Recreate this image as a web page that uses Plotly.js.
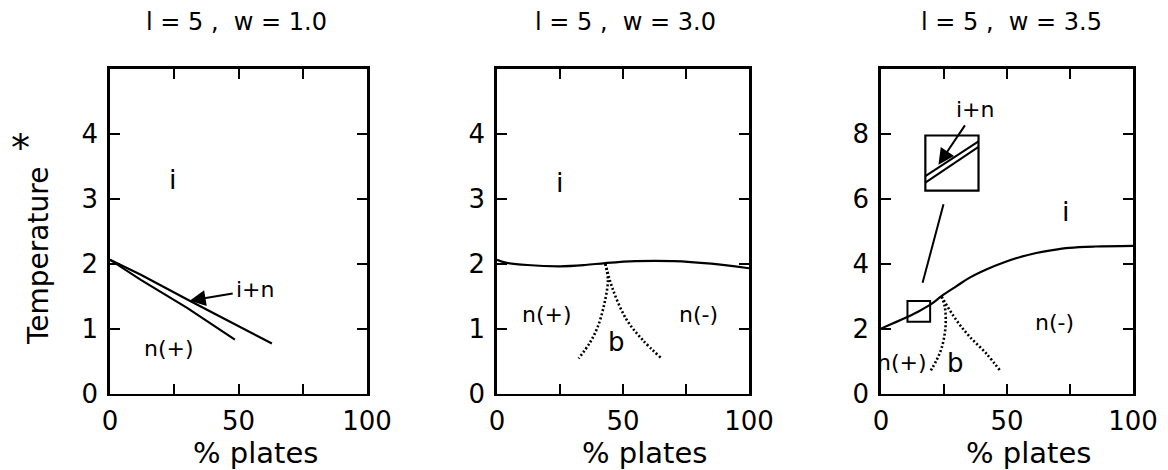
<!DOCTYPE html>
<html>
<head>
<meta charset="utf-8">
<script src="https://cdn.plot.ly/plotly-3.0.1.min.js"></script>
<style>
  html, body { margin: 0; padding: 0; background: #fff; }
  #chart { width: 1168px; height: 470px; }
</style>
</head>
<body>
<div id="chart"></div>
<script>
// ---- panel titles and axis labels ----
const panelTitles = ["l = 5 ,  w = 1.0", "l = 5 ,  w = 3.0", "l = 5 ,  w = 3.5"];
const xTitle = "% plates";
const yTitle = "Temperature";

// ---- tick values / labels ----
const xTickVals = [0, 25, 50, 75, 100];
const xTickText = ["0", "", "50", "", "100"];
const yTickVals12 = [0, 1, 2, 3, 4, 5];
const yTickText12 = ["0", "1", "2", "3", "4", ""];
const yTickVals3 = [0, 2, 4, 6, 8, 10];
const yTickText3 = ["0", "2", "4", "6", "8", ""];

// ---- panel 1 (w = 1.0): two coexistence boundaries ----
const p1UpperX = [0, 12, 31, 63];
const p1UpperT = [2.06, 1.83, 1.43, 0.77];
const p1LowerX = [0, 12, 30, 48.6];
const p1LowerT = [2.06, 1.75, 1.32, 0.83];

// ---- panel 2 (w = 3.0): transition line and dotted boundaries ----
const p2LineX = [0, 3, 12, 25, 35, 43, 55, 70, 85, 100];
const p2LineT = [2.06, 2.02, 1.98, 1.96, 1.98, 2.01, 2.04, 2.04, 2.0, 1.93];
const p2DotLeftX = [43, 44, 42.7, 40, 36.8, 32.4];
const p2DotLeftT = [2.0, 1.75, 1.4, 1.03, 0.78, 0.54];
const p2DotRightX = [43, 46, 51.4, 57.7, 65];
const p2DotRightT = [2.0, 1.6, 1.14, 0.83, 0.55];

// ---- panel 3 (w = 3.5) ----
const p3LineX = [0, 8, 14.7, 20, 24, 30, 35.2, 42, 48.4, 55, 61.6, 68, 74.7, 85, 100];
const p3LineT = [2.0, 2.27, 2.52, 2.76, 3.0, 3.31, 3.57, 3.83, 4.03, 4.2, 4.33, 4.42, 4.49, 4.53, 4.55];
const p3DotLeftX = [24.0, 25.3, 25.7, 25.3, 24.0, 22.0, 19.4];
const p3DotLeftT = [2.99, 2.68, 2.26, 1.85, 1.39, 1.02, 0.66];
const p3DotRightX = [24.0, 29.9, 35.2, 41.8, 47.7];
const p3DotRightT = [2.99, 2.26, 1.75, 1.23, 0.66];
// magnified view: small marker box, inset box, pointer line, inset boundaries
const p3SmallBoxX = [10.5, 19.5];
const p3SmallBoxT = [2.21, 2.85];
const p3InsetBoxX = [17.6, 38.7];
const p3InsetBoxT = [6.25, 7.95];
const p3PointerX = [16.5, 24.8];
const p3PointerT = [3.41, 5.83];
const p3InsetUpperX = [17.6, 38.7];
const p3InsetUpperT = [6.70, 7.77];
const p3InsetLowerX = [17.6, 38.7];
const p3InsetLowerT = [6.50, 7.60];

// ---- region labels: [text, x, T, size] ----
const p1Labels = [["i", 24.5, 3.3, 27], ["n(+)", 23, 0.69, 22]];
const p2Labels = [["i", 25, 3.25, 27], ["n(+)", 20, 1.22, 22], ["n(-)", 80, 1.22, 22], ["b", 47.4, 0.8, 26]];
const p3Labels = [["i", 73.6, 5.6, 27], ["n(-)", 68.8, 2.2, 22], ["n(+)", 8.2, 0.97, 22], ["b", 29.6, 0.93, 26]];

const W = 1168, H = 470;
const FONT = "DejaVu Sans";
const px = v => v / W;
const py = v => 1 - v / H;

const solid = { color: "black", width: 2.2 };
const dotted = { color: "black", width: 2.6, dash: "2px,2.2px" };

function line(x, y, xa, ya, style, shape) {
  return { x: x, y: y, xaxis: xa, yaxis: ya, type: "scatter", mode: "lines",
           line: Object.assign({ shape: shape || "linear", smoothing: 1 }, style),
           hoverinfo: "skip", showlegend: false };
}

const traces = [
  line(p1UpperX, p1UpperT, "x", "y", solid),
  line(p1LowerX, p1LowerT, "x", "y", solid),
  line(p2LineX, p2LineT, "x2", "y2", solid, "spline"),
  line(p2DotLeftX, p2DotLeftT, "x2", "y2", dotted, "spline"),
  line(p2DotRightX, p2DotRightT, "x2", "y2", dotted, "spline"),
  line(p3LineX, p3LineT, "x3", "y3", solid, "spline"),
  line(p3DotLeftX, p3DotLeftT, "x3", "y3", dotted, "spline"),
  line(p3DotRightX, p3DotRightT, "x3", "y3", dotted, "spline"),
  line(p3PointerX, p3PointerT, "x3", "y3", { color: "black", width: 2 }),
  line(p3InsetUpperX, p3InsetUpperT, "x3", "y3", { color: "black", width: 2 }),
  line(p3InsetLowerX, p3InsetLowerT, "x3", "y3", { color: "black", width: 2 })
];

function xAxis(domain, anchor) {
  return { domain: domain, anchor: anchor, range: [0, 100],
           tickmode: "array", tickvals: xTickVals, ticktext: xTickText,
           ticks: "inside", ticklen: 10, tickwidth: 2, tickcolor: "black",
           showline: true, linewidth: 2.8, linecolor: "black", mirror: "ticks",
           showgrid: false, zeroline: false, ticklabelstandoff: 2,
           tickfont: { family: FONT, size: 26, color: "black" }, fixedrange: true };
}
function yAxis(domain, anchor, range, vals, text) {
  return { domain: domain, anchor: anchor, range: range,
           tickmode: "array", tickvals: vals, ticktext: text,
           ticks: "inside", ticklen: 10, tickwidth: 2, tickcolor: "black",
           showline: true, linewidth: 2.8, linecolor: "black", mirror: "ticks",
           showgrid: false, zeroline: false, ticklabelstandoff: 4,
           tickfont: { family: FONT, size: 26, color: "black" }, fixedrange: true };
}

const yDom = [py(393.5), py(69)];

const annotations = [];
// panel titles
[[236, panelTitles[0]], [625, panelTitles[1]], [1011, panelTitles[2]]].forEach(([cx, t]) => {
  annotations.push({ xref: "paper", yref: "paper", x: px(cx), y: py(22), text: t,
    showarrow: false, xanchor: "center", yanchor: "middle",
    font: { family: FONT, size: 24, color: "black" } });
});
// x titles
[255, 644, 1028].forEach(cx => {
  annotations.push({ xref: "paper", yref: "paper", x: px(cx), y: py(453), text: xTitle,
    showarrow: false, xanchor: "center", yanchor: "middle",
    font: { family: FONT, size: 29, color: "black" } });
});
// y title and its asterisk
annotations.push({ xref: "paper", yref: "paper", x: px(38), y: py(256), text: yTitle,
  textangle: -90, showarrow: false, xanchor: "center", yanchor: "middle",
  font: { family: FONT, size: 28, color: "black" } });
annotations.push({ xref: "paper", yref: "paper", x: px(20), y: py(148), text: "*",
  showarrow: false, xanchor: "center", yanchor: "middle",
  font: { family: FONT, size: 38, color: "black" } });

// region labels
function addLabels(list, xr, yr) {
  list.forEach(([t, x, y, s]) => annotations.push({ xref: xr, yref: yr, x: x, y: y, text: t,
    showarrow: false, xanchor: "center", yanchor: "middle",
    font: { family: FONT, size: s, color: "black" } }));
}
addLabels(p1Labels, "x", "y");
addLabels(p2Labels, "x2", "y2");
addLabels(p3Labels, "x3", "y3");

// "i+n" pointers
annotations.push({ xref: "x", yref: "y", x: 31, y: 1.43, text: "i+n",
  showarrow: true, arrowhead: 2, arrowsize: 1.6, arrowwidth: 2, arrowcolor: "black",
  ax: 66, ay: -11, standoff: 0, startstandoff: 2,
  font: { family: FONT, size: 22, color: "black" } });
annotations.push({ xref: "x3", yref: "y3", x: 22.8, y: 7.05, text: "i+n",
  showarrow: true, arrowhead: 2, arrowsize: 1.6, arrowwidth: 2, arrowcolor: "black",
  ax: 37, ay: -55, standoff: 0, startstandoff: 2,
  font: { family: FONT, size: 22, color: "black" } });

const shapes = [
  { type: "rect", xref: "x3", yref: "y3", x0: p3SmallBoxX[0], x1: p3SmallBoxX[1],
    y0: p3SmallBoxT[0], y1: p3SmallBoxT[1], line: { color: "black", width: 2 } },
  { type: "rect", xref: "x3", yref: "y3", x0: p3InsetBoxX[0], x1: p3InsetBoxX[1],
    y0: p3InsetBoxT[0], y1: p3InsetBoxT[1], line: { color: "black", width: 2.2 } }
];

const layout = {
  width: W, height: H,
  margin: { l: 0, r: 0, t: 0, b: 0, pad: 0 },
  paper_bgcolor: "white", plot_bgcolor: "white",
  showlegend: false,
  xaxis: xAxis([px(110), px(367)], "y"),
  yaxis: yAxis(yDom, "x", [0, 5], yTickVals12, yTickText12),
  xaxis2: xAxis([px(497), px(749)], "y2"),
  yaxis2: yAxis(yDom, "x2", [0, 5], yTickVals12, yTickText12),
  xaxis3: xAxis([px(881), px(1133)], "y3"),
  yaxis3: yAxis(yDom, "x3", [0, 10], yTickVals3, yTickText3),
  annotations: annotations,
  shapes: shapes
};

Plotly.newPlot("chart", traces, layout, { staticPlot: true, displayModeBar: false });
</script>
</body>
</html>
